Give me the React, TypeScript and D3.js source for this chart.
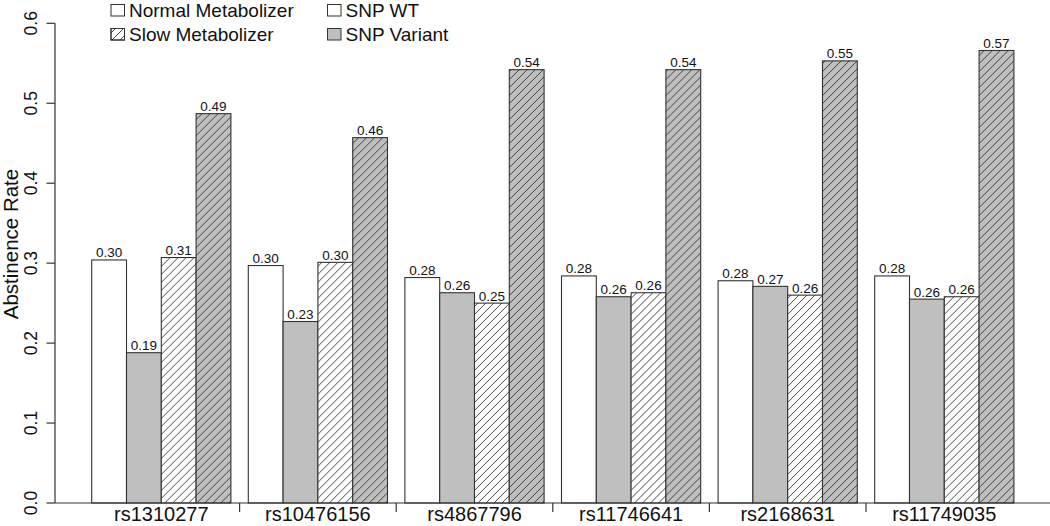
import React from 'react';
import * as d3 from 'd3';

const snps = ['rs1310277', 'rs10476156', 'rs4867796', 'rs11746641', 'rs2168631', 'rs11749035'];
const seriesKeys = ['normalWT', 'normalVariant', 'slowWT', 'slowVariant'];

// abstinence rate per SNP, one list per metabolizer / genotype group
const normalWT = [0.304, 0.297, 0.282, 0.284, 0.278, 0.284];
const normalVariant = [0.188, 0.227, 0.263, 0.258, 0.271, 0.255];
const slowWT = [0.307, 0.301, 0.250, 0.263, 0.260, 0.258];
const slowVariant = [0.487, 0.457, 0.542, 0.542, 0.553, 0.566];

const yTicks = [0, 0.1, 0.2, 0.3, 0.4, 0.5, 0.6];

const W = 1050;
const H = 526;
const FONT = 'Liberation Sans, Arial, Helvetica, sans-serif';
const STROKE = '#333';
const GRAY = '#bfbfbf';

const style: Record<string, { fill: string; hatch: boolean }> = {
  normalWT: { fill: '#fff', hatch: false },
  normalVariant: { fill: GRAY, hatch: false },
  slowWT: { fill: '#fff', hatch: true },
  slowVariant: { fill: GRAY, hatch: true },
};

const legendItems = [
  { label: 'Normal Metabolizer', fill: '#fff', hatch: false, col: 0, row: 0 },
  { label: 'Slow Metabolizer', fill: '#fff', hatch: true, col: 0, row: 1 },
  { label: 'SNP WT', fill: '#fff', hatch: false, col: 1, row: 0 },
  { label: 'SNP Variant', fill: GRAY, hatch: false, col: 1, row: 1 },
];

export default function App() {
  const series: Record<string, number[]> = { normalWT, normalVariant, slowWT, slowVariant };

  const x0 = d3.scaleBand<string>()
    .domain(snps)
    .range([91.7, 1013.9])
    .paddingInner(1 / 9)
    .paddingOuter(0);

  const x1 = d3.scaleBand<string>()
    .domain(seriesKeys)
    .range([0, x0.bandwidth()])
    .padding(0);

  const y = d3.scaleLinear().domain([0, 0.6]).range([503, 23.3]);

  const axisX = 55;
  const step = x0.step();
  const boundaries = snps.slice(1).map((s) => (x0(s) as number) - (step - x0.bandwidth()) / 2);

  return (
    <svg width={W} height={H} style={{ position: 'absolute', left: 0, top: 0, background: '#fff' }}
         fontFamily={FONT}>
      <defs>
        <pattern id="hatch" patternUnits="userSpaceOnUse" width="8" height="8">
          <path d="M-2,2 L2,-2 M0,8 L8,0 M6,10 L10,6" stroke={STROKE} strokeWidth="0.9" />
        </pattern>
      </defs>

      {/* bars */}
      {snps.map((snp, i) => (
        <g key={snp} transform={`translate(${x0(snp)},0)`}>
          {seriesKeys.map((k) => {
            const v = series[k][i];
            const bx = x1(k) as number;
            const bw = x1.bandwidth();
            return (
              <g key={k}>
                <rect x={bx} y={y(v)} width={bw} height={y(0) - y(v)}
                      fill={style[k].fill} stroke="none" />
                {style[k].hatch && (
                  <rect x={bx} y={y(v)} width={bw} height={y(0) - y(v)} fill="url(#hatch)" />
                )}
                <rect x={bx} y={y(v)} width={bw} height={y(0) - y(v)}
                      fill="none" stroke={STROKE} strokeWidth={1.1} />
                <text x={bx + bw / 2} y={y(v) - 2.5} textAnchor="middle" fontSize={13.5} fill="#111">
                  {v.toFixed(2)}
                </text>
              </g>
            );
          })}
        </g>
      ))}

      {/* baseline */}
      <line x1={axisX} x2={W} y1={y(0)} y2={y(0)} stroke={STROKE} strokeWidth={1.2} />

      {/* x ticks between groups and labels */}
      {boundaries.map((bx, i) => (
        <line key={i} x1={bx} x2={bx} y1={y(0)} y2={y(0) + 9} stroke={STROKE} strokeWidth={1.2} />
      ))}
      {snps.map((snp) => (
        <text key={snp} x={(x0(snp) as number) + x0.bandwidth() / 2} y={521} textAnchor="middle"
              fontSize={20} fill="#111">
          {snp}
        </text>
      ))}

      {/* y axis */}
      <line x1={axisX} x2={axisX} y1={y(0.6)} y2={y(0)} stroke={STROKE} strokeWidth={1.2} />
      {yTicks.map((t) => (
        <g key={t}>
          <line x1={axisX - 8.5} x2={axisX} y1={y(t)} y2={y(t)} stroke={STROKE} strokeWidth={1.2} />
          <text transform={`translate(37,${y(t)}) rotate(-90)`} textAnchor="middle" fontSize={17.5}
                fill="#111">
            {t.toFixed(1)}
          </text>
        </g>
      ))}
      <text transform={`translate(18,244) rotate(-90)`} textAnchor="middle" fontSize={20.5} fill="#111">
        Abstinence Rate
      </text>

      {/* legend */}
      {legendItems.map((d) => {
        const lx = d.col === 0 ? 111 : 327.5;
        const ly = d.row === 0 ? 4.5 : 28.5;
        return (
          <g key={d.label}>
            <rect x={lx} y={ly} width={13.5} height={11.5} fill={d.fill} stroke={STROKE} strokeWidth={1} />
            {d.hatch && <rect x={lx} y={ly} width={13.5} height={11.5} fill="url(#hatch)" stroke={STROKE} strokeWidth={1} />}
            <text x={lx + 18} y={ly + 12.5} fontSize={19} fill="#111">{d.label}</text>
          </g>
        );
      })}
    </svg>
  );
}
